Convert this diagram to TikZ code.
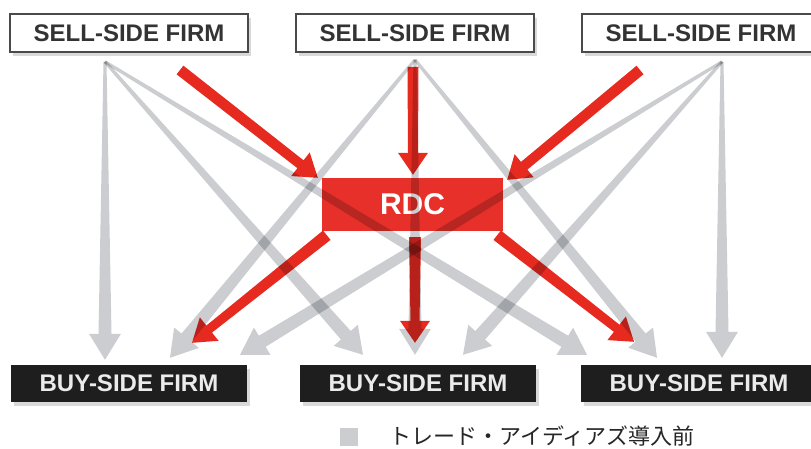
\documentclass[tikz,border=0pt]{standalone}
\usepackage{fontspec}
\setmainfont{Liberation Sans}
\newfontfamily\jpfont{Noto Sans CJK JP}
\usetikzlibrary{calc, shadows}

\definecolor{firmgray}{HTML}{4A4A4A}
\definecolor{firmtext}{HTML}{333333}
\definecolor{buyblack}{HTML}{1E1E1E}
\definecolor{flowgray}{HTML}{CBCDD0}
\definecolor{rdcred}{HTML}{E8302A}
\definecolor{pushred}{HTML}{E62A20}

\tikzstyle{seller} = [rectangle, minimum width=238pt, minimum height=38pt, text centered, draw=firmgray, line width=1.5pt, fill=white, text=firmtext, font=\bfseries\fontsize{24}{28}\selectfont, drop shadow={shadow xshift=3pt, shadow yshift=-4pt, opacity=0.3}]
\tikzstyle{buyer} = [rectangle, minimum width=236pt, minimum height=37pt, text centered, fill=buyblack, text=white!92!black, font=\bfseries\fontsize{24}{28}\selectfont, drop shadow={shadow xshift=3pt, shadow yshift=-4pt, opacity=0.3}]
\tikzstyle{hub} = [rectangle, minimum width=181pt, minimum height=53pt, text centered, fill=rdcred, text=white, font=\bfseries\fontsize{30}{34}\selectfont]
\tikzstyle{flow} = [fill=flowgray, blend mode=multiply]
\tikzstyle{push} = [fill=pushred]
\tikzstyle{key} = [rectangle, minimum size=18pt, inner sep=0pt, fill=flowgray]

% tapered arrow: style, from, to, start half width, end half width, head length, head half width
\newcommand{\flowarrow}[7]{%
  \path (#2) coordinate (ta) (#3) coordinate (tb);
  \path ($(tb)!#6!(ta)$) coordinate (th);
  \fill[#1] ($(ta)!#4!90:(tb)$) -- ($(th)!#5!-90:(ta)$) -- ($(th)!#7!-90:(ta)$) -- (tb)
    -- ($(th)!#7!90:(ta)$) -- ($(th)!#5!90:(ta)$) -- ($(ta)!#4!-90:(tb)$) -- cycle;
}

\begin{document}
\begin{tikzpicture}[x=1pt, y=1pt]
\useasboundingbox (0,0) rectangle (811,448);

% Firms
\node (sell1) [seller] at (129,415) {SELL-SIDE FIRM};
\node (sell2) [seller, right of=sell1, node distance=286pt] {SELL-SIDE FIRM};
\node (sell3) [seller, right of=sell2, node distance=286pt] {SELL-SIDE FIRM};
\node (buy1) [buyer, below of=sell1, node distance=350.5pt] {BUY-SIDE FIRM};
\node (buy2) [buyer, right of=buy1, node distance=289pt] {BUY-SIDE FIRM};
\node (buy3) [buyer, right of=buy2, node distance=281pt] {BUY-SIDE FIRM};
\node (rdc) [hub, below of=sell2, node distance=171.5pt, xshift=-2.5pt] {RDC};

% Legend
\node (keybox) [key] at (349,11) {};
\node (keytext) [anchor=west, font=\jpfont\fontsize{22}{26}\selectfont, text=black!85] at (386,12) {トレード・アイディアズ導入前};

% Arrow ends
\coordinate (s1o) at ($(sell1.south)+(-24,-9)$);
\coordinate (s2o) at ($(sell2.south)+(0,-7)$);
\coordinate (s3o) at ($(sell3.south)+(21,-9)$);
\coordinate (b1a) at ($(buy1.north)+(-24,5)$);
\coordinate (b1b) at ($(buy1.north)+(41,7)$);
\coordinate (b1c) at ($(buy1.north)+(111,10)$);
\coordinate (b2a) at ($(buy2.north)+(-55,10)$);
\coordinate (b2b) at ($(buy2.north)+(-3,10)$);
\coordinate (b2c) at ($(buy2.north)+(45,10)$);
\coordinate (b3a) at ($(buy3.north)+(-112,10)$);
\coordinate (b3b) at ($(buy3.north)+(-42,7)$);
\coordinate (b3c) at ($(buy3.north)+(23,7)$);
\coordinate (b1r) at ($(buy1.north)+(63,22)$);
\coordinate (b2r) at ($(buy2.north)+(-3,22)$);
\coordinate (b3r) at ($(buy3.north)+(-65,23)$);
\coordinate (r1s) at (180,378);
\coordinate (r2s) at (413,381);
\coordinate (r3s) at (640,378);

% Via RDC
\flowarrow{push}{r1s}{$(rdc.north west)+(-4,0)$}{5.5pt}{5pt}{22pt}{15pt}
\flowarrow{push}{r2s}{$(rdc.north)+(0.5,3)$}{5.5pt}{5pt}{22pt}{15pt}
\flowarrow{push}{r3s}{$(rdc.north east)+(4,-2)$}{5.5pt}{5pt}{22pt}{15pt}
\flowarrow{push}{$(rdc.south west)+(5,-4)$}{b1r}{6pt}{4.5pt}{22pt}{15pt}
\flowarrow{push}{$(rdc.south)+(2.5,-6)$}{b2r}{6pt}{4.5pt}{22pt}{15pt}
\flowarrow{push}{$(rdc.south east)+(-6,-4)$}{b3r}{6pt}{4.5pt}{22pt}{15pt}

% Direct
\foreach \s/\a/\b/\c in {s1o/b1a/b2a/b3a, s2o/b1b/b2b/b3b, s3o/b1c/b2c/b3c} {
  \flowarrow{flow}{\s}{\a}{1.5pt}{6.5pt}{26pt}{16pt}
  \flowarrow{flow}{\s}{\b}{1.5pt}{6.5pt}{26pt}{16pt}
  \flowarrow{flow}{\s}{\c}{1.5pt}{6.5pt}{26pt}{16pt}
}

\end{tikzpicture}
\end{document}
